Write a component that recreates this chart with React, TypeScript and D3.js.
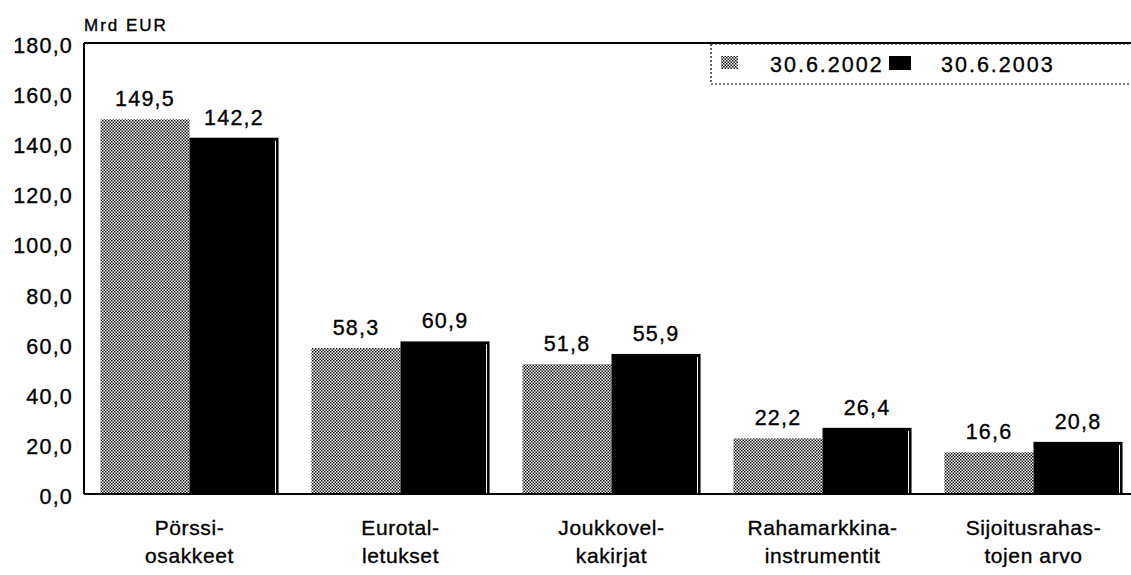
import { useEffect, useRef } from 'react';
import * as d3 from 'd3';

const categories = [
  ['Pörssi-', 'osakkeet'],
  ['Eurotal-', 'letukset'],
  ['Joukkovel-', 'kakirjat'],
  ['Rahamarkkina-', 'instrumentit'],
  ['Sijoitusrahas-', 'tojen arvo'],
];
const seriesNames = ['30.6.2002', '30.6.2003'];
const values2002 = [149.5, 58.3, 51.8, 22.2, 16.6];
const values2003 = [142.2, 60.9, 55.9, 26.4, 20.8];
const yTicks = [0, 20, 40, 60, 80, 100, 120, 140, 160, 180];

const fmt = (v: number) => v.toFixed(1).replace('.', ',');

export default function App() {
  const svgRef = useRef<SVGSVGElement>(null);

  useEffect(() => {
    if (!svgRef.current) return;
    const width = 1131;
    const height = 575;
    const svg = d3.select(svgRef.current);
    svg.selectAll('*').remove();
    svg.attr('width', width).attr('height', height);

    const font = "'Liberation Sans', Arial, sans-serif";
    const left = 84;
    const top = 43;
    const bottom = 494;

    // dither pattern for the 2002 bars
    const defs = svg.append('defs');
    const pat = defs
      .append('pattern')
      .attr('id', 'dither')
      .attr('width', 3)
      .attr('height', 3)
      .attr('patternUnits', 'userSpaceOnUse');
    pat.append('rect').attr('width', 3).attr('height', 3).attr('fill', '#ffffff');
    pat.append('rect').attr('x', 0).attr('y', 0).attr('width', 1.5).attr('height', 1.5).attr('fill', '#111');
    pat.append('rect').attr('x', 1.5).attr('y', 1.5).attr('width', 1.5).attr('height', 1.5).attr('fill', '#111');

    const x0 = d3
      .scaleBand<number>()
      .domain(d3.range(categories.length))
      .range([left, left + 211 * categories.length])
      .paddingInner(0.156)
      .paddingOuter(0.078);
    const x1 = d3.scaleBand<number>().domain([0, 1]).range([0, x0.bandwidth()]);
    const y = d3.scaleLinear().domain([0, 180]).range([bottom, top]);

    const txt = (sel: d3.Selection<any, any, any, any>, size: number, spacing: number) =>
      sel
        .attr('font-family', font)
        .attr('font-size', size)
        .attr('letter-spacing', spacing)
        .attr('fill', '#000')
        .attr('stroke', '#000')
        .attr('stroke-width', 0.35);

    // frame
    svg.append('line').attr('x1', left).attr('x2', width).attr('y1', top).attr('y2', top)
      .attr('stroke', '#000').attr('stroke-width', 2);
    svg.append('line').attr('x1', left).attr('x2', left).attr('y1', top).attr('y2', bottom)
      .attr('stroke', '#000').attr('stroke-width', 2);

    // y axis labels
    txt(
      svg.append('g')
        .selectAll('text')
        .data(yTicks)
        .join('text')
        .attr('x', 73)
        .attr('y', (d) => y(d) + 10)
        .attr('text-anchor', 'end')
        .text((d) => fmt(d)),
      21.5,
      1.2
    );

    txt(svg.append('text').attr('x', 84).attr('y', 31).text('Mrd EUR'), 17, 2);

    const series = [values2002, values2003];
    const fills = ['url(#dither)', '#000'];

    series.forEach((vals, si) => {
      const g = svg.append('g');
      g.selectAll('rect')
        .data(vals)
        .join('rect')
        .attr('x', (_, i) => (x0(i) ?? 0) + (x1(si) ?? 0))
        .attr('y', (d) => y(d))
        .attr('width', x1.bandwidth())
        .attr('height', (d) => bottom - y(d))
        .attr('fill', fills[si]);
      if (si === 1) {
        // white highlight line at the right edge of black bars
        g.selectAll('line')
          .data(vals)
          .join('line')
          .attr('x1', (_, i) => (x0(i) ?? 0) + (x1(si) ?? 0) + x1.bandwidth() - 3)
          .attr('x2', (_, i) => (x0(i) ?? 0) + (x1(si) ?? 0) + x1.bandwidth() - 3)
          .attr('y1', (d) => y(d) + 3)
          .attr('y2', bottom)
          .attr('stroke', '#fff')
          .attr('stroke-width', 1);
      }
      txt(
        g.selectAll('text')
          .data(vals)
          .join('text')
          .attr('x', (_, i) => (x0(i) ?? 0) + (x1(si) ?? 0) + x1.bandwidth() / 2)
          .attr('y', (d) => y(d) - 13)
          .attr('text-anchor', 'middle')
          .text((d) => fmt(d)),
        21.5,
        1.2
      );
    });

    // baseline
    svg.append('line').attr('x1', left).attr('x2', width).attr('y1', bottom).attr('y2', bottom)
      .attr('stroke', '#000').attr('stroke-width', 2);

    // category labels
    const cat = svg.append('g');
    categories.forEach((lines, i) => {
      const cx = (x0(i) ?? 0) + x0.bandwidth() / 2;
      lines.forEach((ln, li) => {
        txt(
          cat.append('text')
            .attr('x', cx)
            .attr('y', 535 + li * 28)
            .attr('text-anchor', 'middle')
            .text(ln),
          21,
          0.6
        );
      });
    });

    // legend
    const lg = svg.append('g');
    lg.append('rect')
      .attr('x', 711).attr('y', 44).attr('width', 425).attr('height', 40)
      .attr('fill', '#fff').attr('stroke', '#000').attr('stroke-width', 1.2)
      .attr('stroke-dasharray', '2,2');
    lg.append('rect').attr('x', 721).attr('y', 56).attr('width', 17).attr('height', 13).attr('fill', 'url(#dither)');
    lg.append('rect').attr('x', 889).attr('y', 56).attr('width', 22).attr('height', 14).attr('fill', '#000');
    [770, 941].forEach((lx, i) => {
      txt(lg.append('text').attr('x', lx).attr('y', 72).text(seriesNames[i]), 21.5, 2);
    });
  }, []);

  return <svg ref={svgRef} style={{ position: 'absolute', left: 0, top: 0 }} />;
}
